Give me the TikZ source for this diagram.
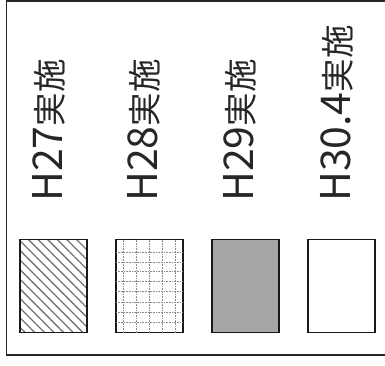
\documentclass[tikz,border=0pt]{standalone}
\usepackage{fontspec}
\newfontfamily\jp{Noto Sans CJK JP}
\usetikzlibrary{patterns.meta}
\newcommand\lbltext[2]{{\jp\fontsize{41}{41}\selectfont #1\fontsize{33.5}{33.5}\selectfont #2}}
\begin{document}
\begin{tikzpicture}[x=1pt,y=-1pt,
  box/.style={draw=black!90, line width=1.8pt, minimum width=67pt, minimum height=93pt, inner sep=0pt, outer sep=0pt},
  lbl/.style={rotate=90, anchor=base west, inner sep=0pt, text=black!85},
  frame/.style={draw=black!85, line width=1.5pt}]
\useasboundingbox (0,0) rectangle (385,365);
\coordinate (ftr) at (385,1);
\coordinate (ftl) at (6.5,1);
\coordinate (fbl) at (6.5,355);
\coordinate (fbr) at (385,355);
\draw[frame] (ftr) -- (ftl) -- (fbl) -- (fbr);
% boxes
\node[box, pattern={Lines[angle=-45,distance=6.8pt,line width=1.3pt]}, pattern color=black!55] (b1) at (53.5,286) {};
\node[box] (b2) at (149.5,286) {};
\begin{scope}
\clip (b2.south west) rectangle (b2.north east);
\foreach \dx in {7,20,33,46,59} \draw[densely dotted, black!45, line width=0.6pt] ([xshift=\dx pt]b2.north west) -- ([xshift=\dx pt]b2.south west);
\foreach \dy in {13,23,32,42,52,63,73,83} \draw[densely dotted, black!45, line width=0.6pt] ([yshift=-\dy pt]b2.north west) -- ([yshift=-\dy pt]b2.north east);
\end{scope}
\node[box, fill=black!35] (b3) at (245.5,286) {};
\node[box, fill=white] (b4) at (341.5,286) {};
% labels
\node[lbl] (t1) at (62,202) {\lbltext{H27}{実施}};
\node[lbl] (t2) at (157,202) {\lbltext{H28}{実施}};
\node[lbl] (t3) at (253,202) {\lbltext{H29}{実施}};
\node[lbl] (t4) at (350,202) {\lbltext{H30.4}{実施}};
\end{tikzpicture}
\end{document}
